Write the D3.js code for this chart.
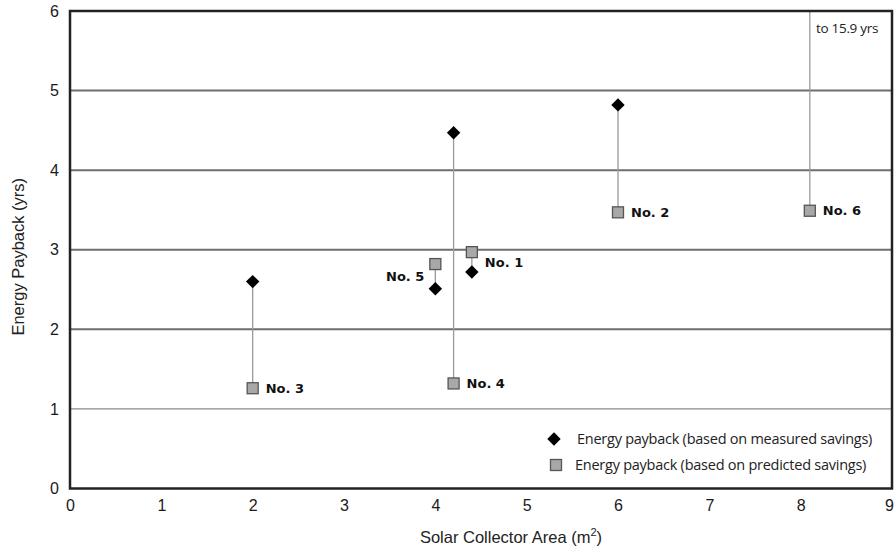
<!DOCTYPE html>
<html>
<head>
<meta charset="utf-8">
<script src="https://cdn.jsdelivr.net/npm/d3@7"></script>
<style>
  html, body { margin: 0; padding: 0; background: #fff; }
  svg { display: block; }
</style>
</head>
<body>
<svg id="chart" width="895" height="548"></svg>
<script>
// ---- data ----
const systems = ["No. 1", "No. 2", "No. 3", "No. 4", "No. 5", "No. 6"];
const collectorArea = [4.4, 6.0, 2.0, 4.2, 4.0, 8.1];
const measuredPayback = [2.72, 4.82, 2.60, 4.47, 2.51, 15.9];
const predictedPayback = [2.97, 3.47, 1.26, 1.32, 2.82, 3.49];
const xTicks = [0, 1, 2, 3, 4, 5, 6, 7, 8, 9];
const yTicks = [0, 1, 2, 3, 4, 5, 6];
const labelSide = ["right", "right", "right", "right", "left", "right"];
const legendLabels = ["Energy payback (based on measured savings)", "Energy payback (based on predicted savings)"];
const offscaleNote = "to 15.9 yrs";

const svg = d3.select("#chart");
const m = { left: 70, right: 892, top: 11, bottom: 488.5 };
const x = d3.scaleLinear().domain([0, 9]).range([m.left, m.right]);
const y = d3.scaleLinear().domain([0, 6]).range([m.bottom, m.top]);

// gridlines
svg.append("g").selectAll("line").data(yTicks.filter(d => d > 0 && d < 6)).join("line")
  .attr("x1", m.left).attr("x2", m.right)
  .attr("y1", d => y(d)).attr("y2", d => y(d))
  .attr("stroke", d => d === 1 ? "#8a8a8a" : "#6e6e6e")
  .attr("stroke-width", d => d === 1 ? 1.2 : 2);

// connectors
const data = systems.map((s, i) => ({
  name: s, x: collectorArea[i], m: measuredPayback[i], p: predictedPayback[i], side: labelSide[i]
}));
svg.append("g").selectAll("line").data(data).join("line")
  .attr("x1", d => x(d.x)).attr("x2", d => x(d.x))
  .attr("y1", d => y(d.p)).attr("y2", d => y(Math.min(d.m, 6)))
  .attr("stroke", "#9a9a9a").attr("stroke-width", 1.3);

// frame
svg.append("rect")
  .attr("x", m.left).attr("y", m.top)
  .attr("width", m.right - m.left).attr("height", m.bottom - m.top)
  .attr("fill", "none").attr("stroke", "#222").attr("stroke-width", 2.5);

// axis tick labels
const xAxis = d3.axisBottom(x).tickValues(xTicks).tickSize(0).tickPadding(11).tickFormat(d3.format("d"));
const gx = svg.append("g").attr("transform", `translate(0,${m.bottom})`).call(xAxis);
gx.select(".domain").remove();
gx.selectAll("text").attr("font-family", "Liberation Sans, Arial, sans-serif").attr("font-size", 16).attr("fill", "#1a1a1a")
  .attr("dx", d => d === 9 ? -3 : 0);

const yAxis = d3.axisLeft(y).tickValues(yTicks).tickSize(0).tickPadding(11).tickFormat(d3.format("d"));
const gy = svg.append("g").attr("transform", `translate(${m.left},0)`).call(yAxis);
gy.select(".domain").remove();
gy.selectAll("text").attr("font-family", "Liberation Sans, Arial, sans-serif").attr("font-size", 16).attr("fill", "#1a1a1a");

// axis titles
const xt = svg.append("text").attr("x", 511).attr("y", 543).attr("text-anchor", "middle")
  .attr("font-family", "Liberation Sans, Arial, sans-serif").attr("font-size", 16.5).attr("fill", "#222");
xt.append("tspan").text("Solar Collector Area (m");
xt.append("tspan").attr("font-size", 11).attr("dy", -7).text("2");
xt.append("tspan").attr("dy", 7).text(")");

svg.append("text").attr("transform", `translate(24,${(m.top + m.bottom) / 2 + 7}) rotate(-90)`)
  .attr("text-anchor", "middle")
  .attr("font-family", "Liberation Sans, Arial, sans-serif").attr("font-size", 16.5).attr("fill", "#222")
  .text("Energy Payback (yrs)");

// markers
const diamond = d3.symbol().type(d3.symbolSquare).size(90);
const onScale = data.filter(d => d.m <= 6);
svg.append("g").selectAll("path").data(onScale).join("path")
  .attr("d", diamond)
  .attr("transform", d => `translate(${x(d.x)},${y(d.m)}) rotate(45)`)
  .attr("fill", "#000");

svg.append("g").selectAll("rect").data(data).join("rect")
  .attr("x", d => x(d.x) - 5.5).attr("y", d => y(d.p) - 5.5)
  .attr("width", 11).attr("height", 11)
  .attr("fill", "#a8a8a8").attr("stroke", "#555").attr("stroke-width", 1.3);

// labels
svg.append("g").selectAll("text").data(data).join("text")
  .attr("x", d => d.side === "right" ? x(d.x) + 13 : x(d.x) - 11)
  .attr("y", d => {
    if (d.side === "left") return (y(d.p) + y(d.m)) / 2;
    if (d.name === "No. 1") return y(d.p) + 10;
    return y(d.p);
  })
  .attr("dy", "0.36em")
  .attr("text-anchor", d => d.side === "right" ? "start" : "end")
  .attr("font-family", "DejaVu Sans, Verdana, sans-serif").attr("font-weight", "bold")
  .attr("font-size", 13).attr("fill", "#111")
  .text(d => d.name);

// offscale note
svg.append("text").attr("x", 816).attr("y", 33)
  .attr("font-family", "Open Sans, Noto Sans, sans-serif").attr("font-size", 13.5).attr("fill", "#222")
  .attr("letter-spacing", -0.3)
  .text(offscaleNote);

// legend
const lg = svg.append("g");
lg.append("path").attr("d", diamond).attr("transform", `translate(554,439) rotate(45)`).attr("fill", "#000");
lg.append("rect").attr("x", 550.5).attr("y", 459.5).attr("width", 11).attr("height", 11)
  .attr("fill", "#a8a8a8").attr("stroke", "#555").attr("stroke-width", 1.3);
lg.selectAll("text").data(legendLabels).join("text")
  .attr("x", (d, i) => i === 0 ? 577 : 575)
  .attr("y", (d, i) => i === 0 ? 439 : 465)
  .attr("dy", "0.35em")
  .attr("font-family", "Open Sans, Noto Sans, sans-serif").attr("font-size", 14.5).attr("fill", "#222")
  .attr("letter-spacing", -0.25)
  .text(d => d);
</script>
</body>
</html>
